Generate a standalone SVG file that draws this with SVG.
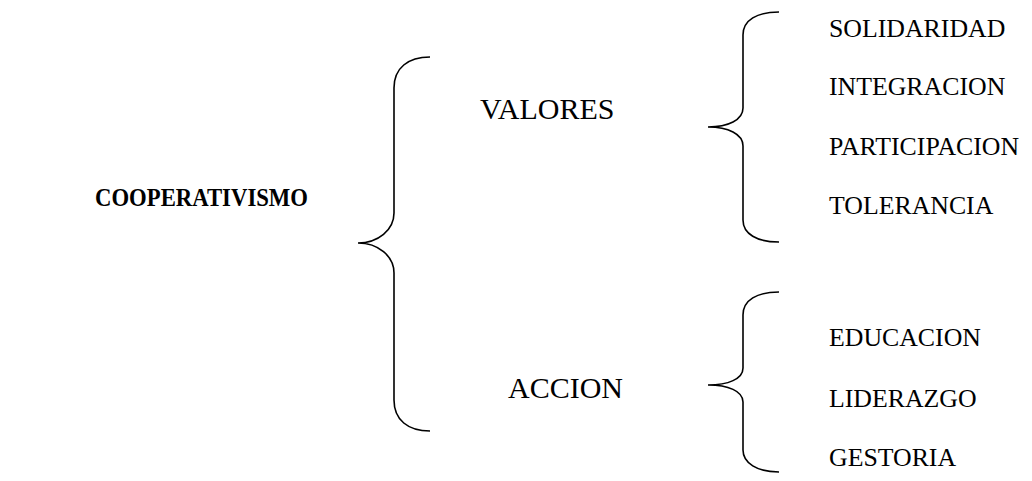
<svg xmlns="http://www.w3.org/2000/svg" width="1032" height="481" viewBox="0 0 1032 481">
<style>
  .t { font-family: "Liberation Serif", "Times New Roman", serif; fill: #000; }
  .root { font-size: 26px; font-weight: bold; }
  .mid { font-size: 30px; }
  .leaf { font-size: 25.8px; }
  .brace { fill: none; stroke: #000; stroke-width: 1.6; }
</style>
<rect width="1032" height="481" fill="#fff"/>
<g id="connectors">
  <path class="brace" d="M430,57 C408,57 394,68 394,88 L394,213 C394,230 378,243 358,243 C378,243 394,256 394,273 L394,400 C394,420 408,431 430,431"/>
  <path class="brace" d="M779,12 C757,12 743,20 743,35 L743,108 C743,120 728,127 708,127 C728,127 743,134 743,146 L743,220 C743,234 757,242 779,242"/>
  <path class="brace" d="M779,292 C757,292 743,300 743,315 L743,368 C743,379 728,385 708,385 C728,385 743,391 743,402 L743,450 C743,463 757,472 779,472"/>
</g>
<g id="cooperativismo"><text class="t root" x="95" y="206" textLength="213" lengthAdjust="spacingAndGlyphs">COOPERATIVISMO</text></g>
<g id="valores"><text class="t mid" x="480" y="119">VALORES</text></g>
<g id="accion"><text class="t mid" x="508" y="398">ACCION</text></g>
<g id="solidaridad"><text class="t leaf" x="829" y="37">SOLIDARIDAD</text></g>
<g id="integracion"><text class="t leaf" x="829" y="95">INTEGRACION</text></g>
<g id="participacion"><text class="t leaf" x="829" y="155">PARTICIPACION</text></g>
<g id="tolerancia"><text class="t leaf" x="829" y="214">TOLERANCIA</text></g>
<g id="educacion"><text class="t leaf" x="829" y="346">EDUCACION</text></g>
<g id="liderazgo"><text class="t leaf" x="829" y="407">LIDERAZGO</text></g>
<g id="gestoria"><text class="t leaf" x="829" y="466">GESTORIA</text></g>
</svg>
